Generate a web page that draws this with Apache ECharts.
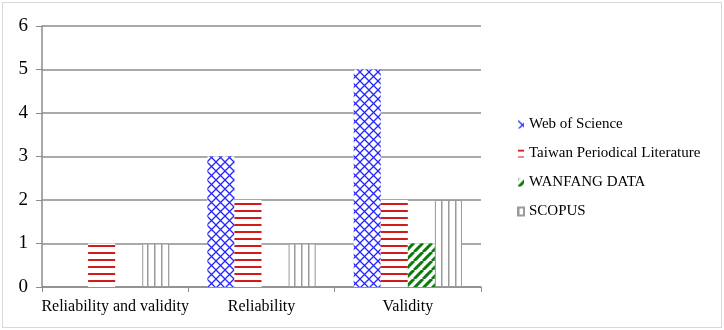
<!DOCTYPE html>
<html>
<head>
<meta charset="utf-8">
<script src="https://cdn.jsdelivr.net/npm/echarts@6/dist/echarts.min.js"></script>
<style>
  html, body { margin: 0; padding: 0; background: #fff; }
  #frame { position: absolute; left: 2px; top: 2px; width: 718px; height: 324px; border: 1px solid #d9d9d9; }
  #chart { width: 724px; height: 330px; position: absolute; left: 0; top: 0; }
</style>
</head>
<body>
<div id="frame"></div>
<div id="chart"></div>
<script>
  const categories = ['Reliability and validity', 'Reliability', 'Validity'];
  const seriesNames = ['Web of Science', 'Taiwan Periodical Literature', 'WANFANG DATA', 'SCOPUS'];
  const webOfScience = [0, 3, 5];
  const taiwanPeriodical = [1, 2, 2];
  const wanfangData = [0, 0, 1];
  const scopus = [1, 1, 2];
  const yTicks = [0, 1, 2, 3, 4, 5, 6];

  // fill patterns
  function makePattern(w, h, draw) {
    const c = document.createElement('canvas');
    c.width = w; c.height = h;
    const ctx = c.getContext('2d');
    ctx.fillStyle = '#fff';
    ctx.fillRect(0, 0, w, h);
    draw(ctx, w, h);
    return { image: c, repeat: 'repeat' };
  }
  const crossBlue = makePattern(9, 9, function (ctx, w, h) {
    ctx.strokeStyle = '#2626ff';
    ctx.lineWidth = 1.3;
    ctx.beginPath();
    ctx.moveTo(0, 0); ctx.lineTo(w, h);
    ctx.moveTo(w, 0); ctx.lineTo(0, h);
    ctx.stroke();
  });
  const stripeRed = makePattern(4, 7, function (ctx, w) {
    ctx.fillStyle = '#d01c1c';
    ctx.fillRect(0, 0, w, 2);
  });
  const diagGreen = makePattern(9, 9, function (ctx, w, h) {
    ctx.strokeStyle = '#0a7a0a';
    ctx.lineWidth = 3;
    ctx.beginPath();
    for (let k = -1; k <= 1; k++) {
      ctx.moveTo(k * w, h); ctx.lineTo(k * w + w, 0);
    }
    ctx.stroke();
  });
  const lineGray = makePattern(7, 4, function (ctx, w, h) {
    ctx.fillStyle = '#9a9a9a';
    ctx.fillRect(0, 0, 1.5, h);
  });
  const fills = [crossBlue, stripeRed, diagGreen, lineGray];
  const values = [webOfScience, taiwanPeriodical, wanfangData, scopus];

  const chart = echarts.init(document.getElementById('chart'));
  const font = '"Liberation Serif", "Times New Roman", serif';
  const option = {
    animation: false,
    textStyle: { fontFamily: font },
    grid: { left: 42, right: 243, top: 26, bottom: 43 },
    legend: {
      orient: 'vertical',
      left: 512,
      top: 112,
      itemWidth: 6,
      itemHeight: 8,
      itemGap: 14,
      icon: 'rect',
      textStyle: { fontFamily: font, fontSize: 15, color: '#000' },
      data: seriesNames
    },
    xAxis: {
      type: 'category',
      data: categories,
      axisLine: { lineStyle: { color: '#8c8c8c', width: 1.5 } },
      axisTick: { show: true, length: 5, lineStyle: { color: '#8c8c8c' } },
      axisLabel: { interval: 0, fontFamily: font, fontSize: 16, color: '#000', margin: 12 }
    },
    yAxis: {
      type: 'value',
      min: 0,
      max: 6,
      interval: 1,
      axisLine: { show: true, lineStyle: { color: '#8c8c8c', width: 1.5 } },
      axisTick: { show: true, length: 6, lineStyle: { color: '#8c8c8c' } },
      axisLabel: {
        fontFamily: font, fontSize: 19, color: '#000', margin: 14,
        formatter: function (v) { return yTicks.indexOf(v) >= 0 ? String(v) : ''; }
      },
      splitLine: { lineStyle: { color: '#8c8c8c', width: 1.5 } }
    },
    series: seriesNames.map(function (name, i) {
      return {
        name: name,
        type: 'bar',
        data: values[i],
        barGap: '0%',
        barCategoryGap: '26%',
        itemStyle: {
          color: fills[i],
          borderColor: i === 3 ? '#9a9a9a' : 'transparent',
          borderWidth: i === 3 ? 1 : 0
        }
      };
    })
  };
  chart.setOption(option);
</script>
</body>
</html>
